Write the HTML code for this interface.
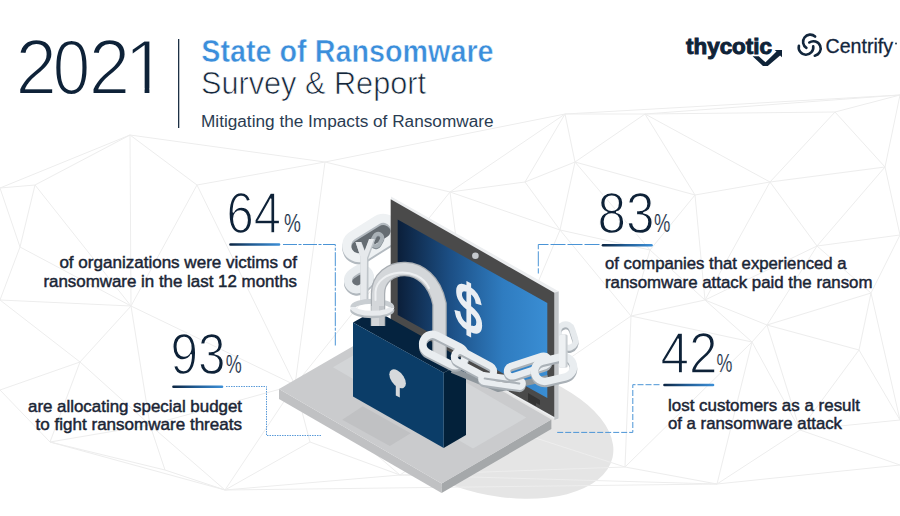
<!DOCTYPE html>
<html><head><meta charset="utf-8">
<style>
html,body{margin:0;padding:0;background:#fff;width:900px;height:516px;overflow:hidden}
svg{display:block}
.t{font-family:"Liberation Sans",sans-serif}
.num{font-family:"Liberation Sans",sans-serif;fill:#0e2238;stroke:#fff}
.pct{font-family:"Liberation Sans",sans-serif;fill:#1a3048;stroke:#fff}
.desc{font-family:"Liberation Sans",sans-serif;font-size:16.3px;fill:#1a2535;stroke:#1a2535;stroke-width:0.45px}
</style></head>
<body>
<svg width="900" height="516" viewBox="0 0 900 516">
<defs>
  <linearGradient id="bar" x1="0" x2="1" y1="0" y2="0">
    <stop offset="0" stop-color="#0c2440"/><stop offset="0.45" stop-color="#1f5a92"/><stop offset="1" stop-color="#3d90d8"/>
  </linearGradient>
  <linearGradient id="scr" x1="398" y1="0" x2="548" y2="0" gradientUnits="userSpaceOnUse">
    <stop offset="0" stop-color="#0b1f3a"/><stop offset="0.35" stop-color="#1c4f85"/><stop offset="0.7" stop-color="#2f7cc0"/><stop offset="1" stop-color="#3a8ed4"/>
  </linearGradient>
</defs>
<rect width="900" height="516" fill="#fff"/>

<!-- background network lines -->
<ellipse id="shadow" cx="492.7" cy="429.9" rx="123" ry="64.7" transform="rotate(13.1 492.7 429.9)" fill="#e5e5e5"/>
<g id="net"><path d="M0 188L35 185M0 188L20 247M0 188L130 135M35 185L20 247M35 185L131 306M35 185L130 135M20 247L0 300M20 247L131 306M0 300L131 306M0 300L80 362M131 306L80 362M131 306L197 185M131 306L130 135M131 306L150 425M131 306L295 385M80 362L0 390M80 362L50 442M80 362L150 425M0 390L50 442M197 185L325 162M197 185L130 135M197 185L295 385M325 162L130 135M325 162L295 385M325 162L450 192M325 162L565 114M165 470L50 442M165 470L225 490M165 470L150 425M50 442L225 490M50 442L150 425M225 490L310 442M225 490L150 425M225 490L295 385M225 490L717 484M225 490L400 475M310 442L295 385M310 442L400 475M150 425L295 385M295 385L450 192M295 385L400 475M295 385L480 420M450 192L525 182M450 192L565 114M450 192L560 230M450 192L480 420M525 182L565 114M525 182L575 162M525 182L560 230M565 114L645 114M565 114L575 162M565 114L900 95M645 114L575 162M645 114L695 195M645 114L770 182M645 114L900 95M645 114L835 112M575 162L695 195M575 162L560 230M575 162L650 250M695 195L770 182M695 195L705 300M695 195L650 250M770 182L885 167M770 182L835 112M770 182L817 246M770 182L705 300M885 167L900 95M885 167L835 112M885 167L900 235M885 167L817 246M900 95L835 112M900 235L817 246M900 235L871 293M817 246L871 293M817 246L767 325M817 246L705 300M871 293L859 350M871 293L767 325M871 293L900 420M859 350L767 325M859 350L900 420M859 350L800 430M767 325L705 300M767 325L752 342M767 325L800 430M705 300L631 316M705 300L752 342M705 300L650 250M631 316L752 342M631 316L625 467M631 316L560 230M631 316L650 250M631 316L480 420M752 342L717 484M752 342L625 467M752 342L800 430M900 420L800 430M900 465L717 484M900 465L800 430M717 484L625 467M717 484L800 430M717 484L400 475M625 467L400 475M625 467L480 420M560 230L650 250M560 230L480 420M400 475L480 420" fill="none" stroke="#ededed" stroke-width="1"/></g>
<!-- ILLU START -->
<g id="illu">
<polygon points="279,389 441.6,483.4 441.6,493 279,399" fill="#c0c1c3"/>
<polygon points="441.6,483.4 551.4,419.6 551.4,429 441.6,493" fill="#a5a8aa"/>
<polygon points="279,389 441.6,483.4 551.4,419.6 388.8,325.4" fill="#cacbcd"/>
<polygon points="333,367.2 473,448.5 526.3,417.5 386.3,336.2" fill="#d3d5d7"/>
<polygon points="342.3,419.8 389.8,445.9 410.7,433.2 362.7,406.2" fill="#c0c1c3"/>
<path d="M-14.50,-12.00 H14.50 A12.00,12.00 0 0 1 14.50,12.00 H-14.50 A12.00,12.00 0 0 1 -14.50,-12.00 Z" fill="#656c72" transform="translate(371,238) rotate(-32)"/><path d="M-14.50,-16.50 H14.50 A16.50,16.50 0 0 1 14.50,16.50 H-14.50 A16.50,16.50 0 0 1 -14.50,-16.50 Z M-14.50,-7.50 H14.50 A7.50,7.50 0 0 1 14.50,7.50 H-14.50 A7.50,7.50 0 0 1 -14.50,-7.50 Z" fill="#b3bac0" fill-rule="evenodd" transform="translate(0,2.2) translate(371,238) rotate(-32)"/><path d="M-14.50,-16.50 H14.50 A16.50,16.50 0 0 1 14.50,16.50 H-14.50 A16.50,16.50 0 0 1 -14.50,-16.50 Z M-14.50,-7.50 H14.50 A7.50,7.50 0 0 1 14.50,7.50 H-14.50 A7.50,7.50 0 0 1 -14.50,-7.50 Z" fill="#eef1f3" fill-rule="evenodd" transform="translate(371,238) rotate(-32)"/>
<path d="M-5.00,-10.00 H5.00 A10.00,10.00 0 0 1 5.00,10.00 H-5.00 A10.00,10.00 0 0 1 -5.00,-10.00 Z M-5.00,-4.00 H5.00 A4.00,4.00 0 0 1 5.00,4.00 H-5.00 A4.00,4.00 0 0 1 -5.00,-4.00 Z" fill="#a9b0b6" fill-rule="evenodd" transform="translate(0,2.2) translate(567,336) rotate(72)"/><path d="M-5.00,-10.00 H5.00 A10.00,10.00 0 0 1 5.00,10.00 H-5.00 A10.00,10.00 0 0 1 -5.00,-10.00 Z M-5.00,-4.00 H5.00 A4.00,4.00 0 0 1 5.00,4.00 H-5.00 A4.00,4.00 0 0 1 -5.00,-4.00 Z" fill="#e6eaed" fill-rule="evenodd" transform="translate(567,336) rotate(72)"/>
<polygon points="391,196.5 559,291.5 559,419 556,420 391,326" fill="#eceef0"/>
<polygon points="554.3,292.7 558.6,291.5 558.6,418.5 554.3,420" fill="#c3c6c9"/>
<polygon points="390.7,199.2 554.3,292.7 554.3,417 390.7,325" fill="#4a4a4a"/>
<polygon points="397.7,219.6 547.3,303 547.3,398 397.7,315" fill="url(#scr)"/>
<polygon points="528,393 540,400 540,405 536,403 536,406 528,401.5" fill="#333"/>
<circle cx="475.4" cy="255.7" r="3.3" fill="#c5c9cd"/>
<g transform="translate(468.5,307.5) skewY(29) scale(0.76,1)"><text x="0" y="23" font-family="Liberation Sans" font-size="64" fill="#e9eef3" stroke="#e9eef3" stroke-width="2.2" text-anchor="middle">$</text></g>
<path d="M-2.50,-6.00 H2.50 A6.00,6.00 0 0 1 2.50,6.00 H-2.50 A6.00,6.00 0 0 1 -2.50,-6.00 Z M-2.50,-2.00 H2.50 A2.00,2.00 0 0 1 2.50,2.00 H-2.50 A2.00,2.00 0 0 1 -2.50,-2.00 Z" fill="#7d868d" fill-rule="evenodd" transform="translate(0,1) translate(377,240) rotate(-60)"/><path d="M-2.50,-6.00 H2.50 A6.00,6.00 0 0 1 2.50,6.00 H-2.50 A6.00,6.00 0 0 1 -2.50,-6.00 Z M-2.50,-2.00 H2.50 A2.00,2.00 0 0 1 2.50,2.00 H-2.50 A2.00,2.00 0 0 1 -2.50,-2.00 Z" fill="#a9b1b7" fill-rule="evenodd" transform="translate(377,240) rotate(-60)"/>
<path d="M-2.50,-9.00 H2.50 A9.00,9.00 0 0 1 2.50,9.00 H-2.50 A9.00,9.00 0 0 1 -2.50,-9.00 Z" fill="#6a7177" transform="translate(359,279) rotate(-35)"/><path d="M-2.50,-13.00 H2.50 A13.00,13.00 0 0 1 2.50,13.00 H-2.50 A13.00,13.00 0 0 1 -2.50,-13.00 Z M-2.50,-5.00 H2.50 A5.00,5.00 0 0 1 2.50,5.00 H-2.50 A5.00,5.00 0 0 1 -2.50,-5.00 Z" fill="#b0b7bd" fill-rule="evenodd" transform="translate(0,2.2) translate(359,279) rotate(-35)"/><path d="M-2.50,-13.00 H2.50 A13.00,13.00 0 0 1 2.50,13.00 H-2.50 A13.00,13.00 0 0 1 -2.50,-13.00 Z M-2.50,-5.00 H2.50 A5.00,5.00 0 0 1 2.50,5.00 H-2.50 A5.00,5.00 0 0 1 -2.50,-5.00 Z" fill="#e8ecef" fill-rule="evenodd" transform="translate(359,279) rotate(-35)"/>
<polygon points="355.5,242 361.5,242 365,251 369.5,239 375.5,239 368.5,258 368.5,304 360.5,304 360.5,257" fill="#bfc5ca"/>
<polygon points="355.5,242 361,242 364.5,251 369,239 374,239 367,258 366.5,304 360.5,304 360.5,257" fill="#e6e9ec"/>
<polygon points="353,322.5 375,310 466,361 443.7,372.8" fill="#05233f"/>
<path d="M352.8,307.3 A19.5,6 0 0 1 391.8,307.3" fill="none" stroke="#c9ced2" stroke-width="5"/>
<path d="M378 326 L378 294 C378 262 430 256 439.5 304 L439.5 358" fill="none" stroke="#a9aeb3" stroke-width="14.5"/>
<path d="M378 326 L378 294 C378 262 430 256 439.5 304 L439.5 358" fill="none" stroke="#d4d7da" stroke-width="12"/>
<path d="M375.5 300 L375.5 292 C376.5 270 418 264 429 288" fill="none" stroke="#eef0f2" stroke-width="2" stroke-linecap="round"/>
<rect x="371.5" y="306" width="12.5" height="20" fill="#d4d7da"/>
<rect x="379" y="306" width="5" height="20" fill="#c2c6ca"/>
<path d="M352.8,309.5 A19.5,6 0 0 0 391.8,309.5" fill="none" stroke="#b9bfc4" stroke-width="5.5"/>
<path d="M352.8,307.3 A19.5,6 0 0 0 391.8,307.3" fill="none" stroke="#e8ebee" stroke-width="5"/>
<polygon points="443.7,372.8 466,361 466,435 443.7,448" fill="#03213a"/>
<polygon points="353,322.5 443.7,372.8 443.7,448 353,396.5" fill="#0b3d68"/>
<g transform="translate(397.6,378.8) skewY(29)"><circle r="8.3" fill="#d6d9dc"/></g>
<polygon points="395.8,383 399.8,385 399.8,397.5 395.8,395.5" fill="#d6d9dc"/>
<path d="M452 370 L498 389 L548 378" fill="none" stroke="#8f979d" stroke-width="6" stroke-linejoin="round"/>
<path d="M-13.00,-13.50 H13.00 A13.50,13.50 0 0 1 13.00,13.50 H-13.00 A13.50,13.50 0 0 1 -13.00,-13.50 Z M-13.00,-6.00 H13.00 A6.00,6.00 0 0 1 13.00,6.00 H-13.00 A6.00,6.00 0 0 1 -13.00,-6.00 Z" fill="#aab1b7" fill-rule="evenodd" transform="translate(0,2.2) translate(444,350) rotate(27)"/><path d="M-13.00,-13.50 H13.00 A13.50,13.50 0 0 1 13.00,13.50 H-13.00 A13.50,13.50 0 0 1 -13.00,-13.50 Z M-13.00,-6.00 H13.00 A6.00,6.00 0 0 1 13.00,6.00 H-13.00 A6.00,6.00 0 0 1 -13.00,-6.00 Z" fill="#e9edf0" fill-rule="evenodd" transform="translate(444,350) rotate(27)"/>
<path d="M-15.50,-9.50 H15.50 A9.50,9.50 0 0 1 15.50,9.50 H-15.50 A9.50,9.50 0 0 1 -15.50,-9.50 Z M-15.50,-2.50 H15.50 A2.50,2.50 0 0 1 15.50,2.50 H-15.50 A2.50,2.50 0 0 1 -15.50,-2.50 Z" fill="#aab1b7" fill-rule="evenodd" transform="translate(0,2.2) translate(474,364) rotate(28)"/><path d="M-15.50,-9.50 H15.50 A9.50,9.50 0 0 1 15.50,9.50 H-15.50 A9.50,9.50 0 0 1 -15.50,-9.50 Z M-15.50,-2.50 H15.50 A2.50,2.50 0 0 1 15.50,2.50 H-15.50 A2.50,2.50 0 0 1 -15.50,-2.50 Z" fill="#e9edf0" fill-rule="evenodd" transform="translate(474,364) rotate(28)"/>
<path d="M-17.50,-6.50 H17.50 A6.50,6.50 0 0 1 17.50,6.50 H-17.50 A6.50,6.50 0 0 1 -17.50,-6.50 Z M-17.50,-1.00 H17.50 A1.00,1.00 0 0 1 17.50,1.00 H-17.50 A1.00,1.00 0 0 1 -17.50,-1.00 Z" fill="#aab1b7" fill-rule="evenodd" transform="translate(0,2.2) translate(502,381) rotate(8)"/><path d="M-17.50,-6.50 H17.50 A6.50,6.50 0 0 1 17.50,6.50 H-17.50 A6.50,6.50 0 0 1 -17.50,-6.50 Z M-17.50,-1.00 H17.50 A1.00,1.00 0 0 1 17.50,1.00 H-17.50 A1.00,1.00 0 0 1 -17.50,-1.00 Z" fill="#e9edf0" fill-rule="evenodd" transform="translate(502,381) rotate(8)"/>
<path d="M-16.50,-8.50 H16.50 A8.50,8.50 0 0 1 16.50,8.50 H-16.50 A8.50,8.50 0 0 1 -16.50,-8.50 Z M-16.50,-2.00 H16.50 A2.00,2.00 0 0 1 16.50,2.00 H-16.50 A2.00,2.00 0 0 1 -16.50,-2.00 Z" fill="#aab1b7" fill-rule="evenodd" transform="translate(0,2.2) translate(528,366) rotate(-18)"/><path d="M-16.50,-8.50 H16.50 A8.50,8.50 0 0 1 16.50,8.50 H-16.50 A8.50,8.50 0 0 1 -16.50,-8.50 Z M-16.50,-2.00 H16.50 A2.00,2.00 0 0 1 16.50,2.00 H-16.50 A2.00,2.00 0 0 1 -16.50,-2.00 Z" fill="#e9edf0" fill-rule="evenodd" transform="translate(528,366) rotate(-18)"/>
<path d="M-9.50,-14.00 H9.50 A14.00,14.00 0 0 1 9.50,14.00 H-9.50 A14.00,14.00 0 0 1 -9.50,-14.00 Z M-9.50,-6.50 H9.50 A6.50,6.50 0 0 1 9.50,6.50 H-9.50 A6.50,6.50 0 0 1 -9.50,-6.50 Z" fill="#aab1b7" fill-rule="evenodd" transform="translate(0,2.2) translate(554,369) rotate(-13)"/><path d="M-9.50,-14.00 H9.50 A14.00,14.00 0 0 1 9.50,14.00 H-9.50 A14.00,14.00 0 0 1 -9.50,-14.00 Z M-9.50,-6.50 H9.50 A6.50,6.50 0 0 1 9.50,6.50 H-9.50 A6.50,6.50 0 0 1 -9.50,-6.50 Z" fill="#e9edf0" fill-rule="evenodd" transform="translate(554,369) rotate(-13)"/>
<rect x="559" y="334.4" width="8.6" height="33" rx="1.5" fill="#c9ced2"/>
<rect x="559" y="334.4" width="6.6" height="33" rx="1.5" fill="#eef1f3"/>
</g>
<!-- ILLU END -->


<!-- HEADER -->
<text class="num" y="93.5" font-size="77" stroke-width="2"><tspan x="15.6" textLength="41.4" lengthAdjust="spacingAndGlyphs">2</tspan><tspan x="52.7" textLength="37.4" lengthAdjust="spacingAndGlyphs">0</tspan><tspan x="88.7" textLength="41.4" lengthAdjust="spacingAndGlyphs">2</tspan><tspan x="124.3">1</tspan></text>
<rect x="128" y="88.5" width="16.6" height="6" fill="#fff"/><rect x="149.4" y="88.5" width="15" height="6" fill="#fff"/>
<rect x="178" y="39" width="1.3" height="89" fill="#1d3045"/>
<text class="t" x="201.3" y="62.3" font-size="31" font-weight="700" fill="#3b8edb" stroke="#fff" stroke-width="0.5" textLength="292.3" lengthAdjust="spacingAndGlyphs">State of Ransomware</text>
<text class="t" x="201" y="94" font-size="31" fill="#14263a" stroke="#fff" stroke-width="0.7" textLength="225" lengthAdjust="spacingAndGlyphs">Survey &amp; Report</text>
<text class="t" x="201" y="127" font-size="17.3" fill="#2a3c52" textLength="292.5" lengthAdjust="spacingAndGlyphs">Mitigating the Impacts of Ransomware</text>

<!-- logos -->
<text class="t" x="686" y="53.6" font-size="22.5" font-weight="700" fill="#0f2338" stroke="#0f2338" stroke-width="1" textLength="86" lengthAdjust="spacingAndGlyphs">thycotic</text>
<polygon points="752.6,56.3 758.8,56.3 765.5,62.3 776.5,51.6 774.6,49.9 782,49.9 782,57.3 780.1,55.4 767.8,66 763,66" fill="#0f2338"/>
<g fill="none" stroke="#12263c" stroke-width="2.6" stroke-linecap="round">
  <path d="M815.1 36.5 A7.2 7.2 0 1 0 806.4 47.9"/>
  <path d="M809.3 42.5 A7.3 7.3 0 1 1 814.8 55.7"/>
  <path d="M798.9 45.7 A7.3 7.3 0 1 0 813.2 46.2"/>
</g>
<text class="t" x="825.5" y="53" font-size="20" fill="#12263c" stroke="#12263c" stroke-width="0.3" textLength="67.5" lengthAdjust="spacingAndGlyphs">Centrify</text>
<circle cx="896" cy="43.5" r="0.9" fill="#12263c"/>

<!-- STAT 64 -->
<text class="num" x="226.5" y="232.7" font-size="57.6" stroke-width="1.5" textLength="54.5" lengthAdjust="spacingAndGlyphs">64</text>
<text class="pct" x="284" y="231.7" font-size="25" stroke-width="0.15" textLength="16.9" lengthAdjust="spacingAndGlyphs">%</text>
<rect x="229.2" y="243.2" width="51.1" height="2.6" rx="1.3" fill="url(#bar)"/>
<path d="M283 244.5 H335.3 V345.5" fill="none" stroke="#4a94d6" stroke-width="1" stroke-dasharray="14 1.5 3 1.5"/>
<text class="desc" x="297" y="268" text-anchor="end" textLength="237.6" lengthAdjust="spacingAndGlyphs">of organizations were victims of</text>
<text class="desc" x="297" y="287.3" text-anchor="end" textLength="253.6" lengthAdjust="spacingAndGlyphs">ransomware in the last 12 months</text>

<!-- STAT 83 -->
<text class="num" x="597.5" y="232.5" font-size="57.6" stroke-width="1.5" textLength="57" lengthAdjust="spacingAndGlyphs">83</text>
<text class="pct" x="654" y="231.7" font-size="25" stroke-width="0.15" textLength="16.4" lengthAdjust="spacingAndGlyphs">%</text>
<rect x="601.7" y="243.9" width="51.1" height="2.6" rx="1.3" fill="url(#bar)"/>
<path d="M599.5 244.5 H538.3 V273.5" fill="none" stroke="#4a94d6" stroke-width="1" stroke-dasharray="15 2"/>
<text class="desc" x="605" y="269" textLength="241.6" lengthAdjust="spacingAndGlyphs">of companies that experienced a</text>
<text class="desc" x="605" y="288.1" textLength="267.5" lengthAdjust="spacingAndGlyphs">ransomware attack paid the ransom</text>

<!-- STAT 93 -->
<text class="num" x="170.5" y="374" font-size="57.6" stroke-width="1.5" textLength="55" lengthAdjust="spacingAndGlyphs">93</text>
<text class="pct" x="225.8" y="372.7" font-size="25" stroke-width="0.15" textLength="16.0" lengthAdjust="spacingAndGlyphs">%</text>
<rect x="172.2" y="385.5" width="51.1" height="2.6" rx="1.3" fill="url(#bar)"/>
<path d="M226 386.5 H266.5 V435.5 H322" fill="none" stroke="#5a9ad8" stroke-width="1" stroke-dasharray="1.5 1"/>
<text class="desc" x="242" y="411.8" text-anchor="end" textLength="214" lengthAdjust="spacingAndGlyphs">are allocating special budget</text>
<text class="desc" x="242" y="430" text-anchor="end" textLength="206.4" lengthAdjust="spacingAndGlyphs">to fight ransomware threats</text>

<!-- STAT 42 -->
<text class="num" x="660.5" y="372.7" font-size="57.6" stroke-width="1.5" textLength="57" lengthAdjust="spacingAndGlyphs">42</text>
<text class="pct" x="716.5" y="371.7" font-size="25" stroke-width="0.15" textLength="15.9" lengthAdjust="spacingAndGlyphs">%</text>
<rect x="663.2" y="383.7" width="51.1" height="2.6" rx="1.3" fill="url(#bar)"/>
<path d="M659.5 384.7 H632.8 V432.4 H557" fill="none" stroke="#4a94d6" stroke-width="1" stroke-dasharray="6 2"/>
<text class="desc" x="668" y="411" textLength="192" lengthAdjust="spacingAndGlyphs">lost customers as a result</text>
<text class="desc" x="668" y="429.2" textLength="174" lengthAdjust="spacingAndGlyphs">of a ransomware attack</text>


</svg>
</body></html>
